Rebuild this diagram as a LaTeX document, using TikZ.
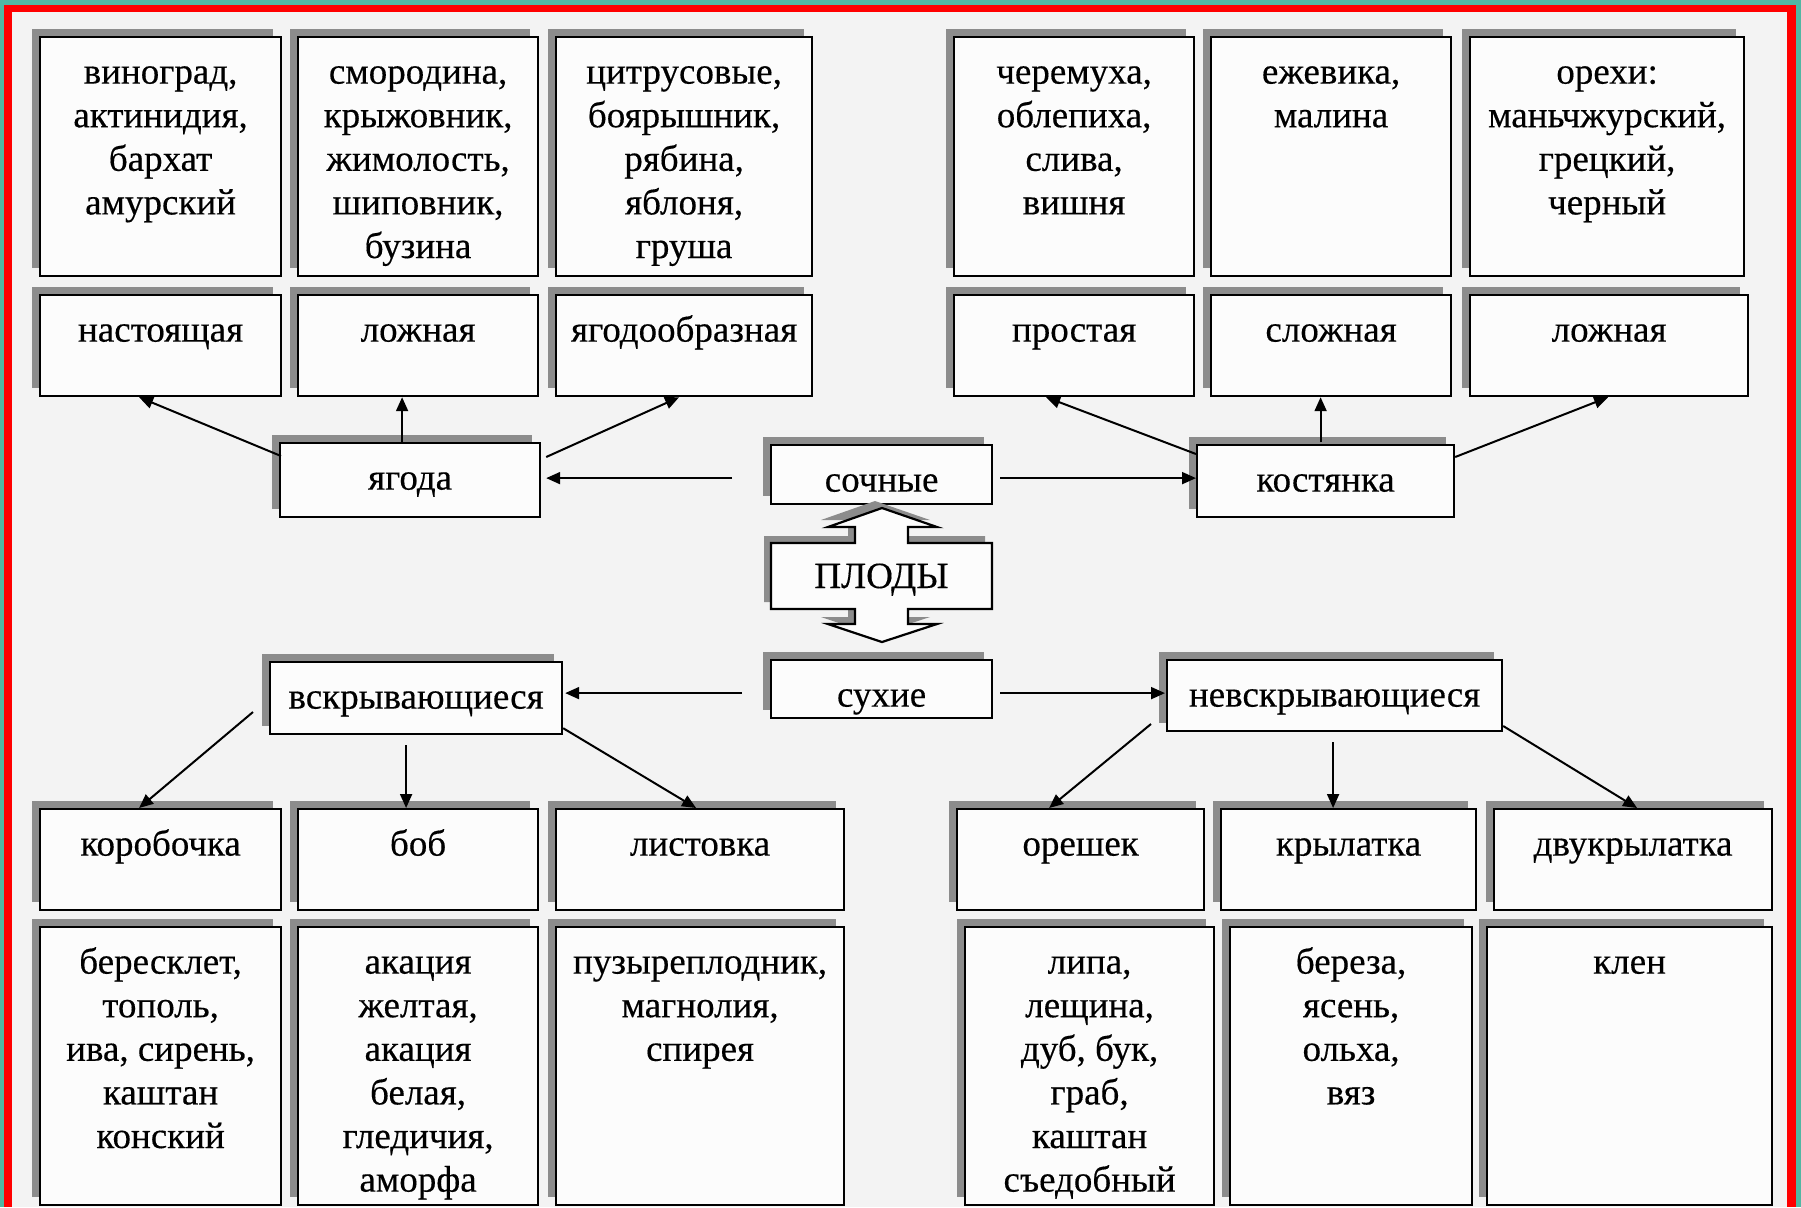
\documentclass[tikz,border=0pt]{standalone}
\usepackage{fontspec}
\setmainfont{Liberation Serif}[FakeBold=0.35]
\usetikzlibrary{arrows.meta,calc}
\definecolor{teal1}{RGB}{82,183,163}
\definecolor{bgc}{RGB}{243,243,243}
\definecolor{boxc}{RGB}{252,252,252}
\definecolor{shc}{RGB}{140,140,140}
\tikzset{
  boxst/.style={draw=black, line width=1.1pt, fill=boxc, inner sep=0pt, anchor=north west,
    font=\fontsize{18.5pt}{21.8pt}\selectfont},
  arr/.style={line width=1pt, -{Triangle[length=7pt,width=6pt]}},
  shadowst/.style={fill=shc},
}
\newcommand{\plbox}[6]{%
  \fill[shadowst] (#2-7,#3-7) rectangle (#4-7,#5-7);
  \node[boxst] (#1) at (#2,#3) {\parbox[t][\dimexpr(#5pt-#3pt)/2\relax][t]{\dimexpr(#4pt-#2pt)/2\relax}{\centering\vspace*{8pt}\strut #6}};
}
\begin{document}
\begin{tikzpicture}[x=0.5pt,y=-0.5pt]
\useasboundingbox (0,0) rectangle (1801,1207);
\fill[teal1] (0,0) rectangle (1801,1207);
\fill[red] (4,5) rectangle (1796,1207);
\fill[bgc] (12,12) rectangle (1787,1207);

% top left group
\plbox{A1}{39}{36}{280}{275}{виноград,\\ актинидия,\\ бархат\\ амурский}
\plbox{A2}{297}{36}{537}{275}{смородина,\\ крыжовник,\\ жимолость,\\ шиповник,\\ бузина}
\plbox{A3}{555}{36}{811}{275}{цитрусовые,\\ боярышник,\\ рябина,\\ яблоня,\\ груша}
\plbox{B1}{39}{294}{280}{395}{настоящая}
\plbox{B2}{297}{294}{537}{395}{ложная}
\plbox{B3}{555}{294}{811}{395}{ягодообразная}
% top right group
\plbox{C1}{953}{36}{1193}{275}{черемуха,\\ облепиха,\\ слива,\\ вишня}
\plbox{C2}{1210}{36}{1450}{275}{ежевика,\\ малина}
\plbox{C3}{1469}{36}{1743}{275}{орехи:\\ маньчжурский,\\ грецкий,\\ черный}
\plbox{D1}{953}{294}{1193}{395}{простая}
\plbox{D2}{1210}{294}{1450}{395}{сложная}
\plbox{D3}{1469}{294}{1747}{395}{ложная}
% middle
\plbox{yag}{279}{442}{539}{516}{ягода}
\plbox{soch}{770}{444}{991}{503}{сочные}
\plbox{kost}{1196}{444}{1453}{516}{костянка}
\plbox{suh}{770}{659}{991}{717}{сухие}
\plbox{vskr}{269}{661}{561}{733}{вскрывающиеся}
\plbox{nevskr}{1166}{659}{1501}{730}{невскрывающиеся}
% PLODY with double arrow
\fill[shc, shift={(-7,-7)}] (771,543) -- (855,543) -- (855,527) -- (828,527) -- (882,508) -- (937,527) -- (908,527) -- (908,543) -- (992,543) -- (992,609) -- (908,609) -- (908,624) -- (937,624) -- (882,642) -- (828,624) -- (855,624) -- (855,609) -- (771,609) -- cycle;
\filldraw[fill=boxc, draw=black, line width=1.1pt, line join=miter] (771,543) -- (855,543) -- (855,527) -- (828,527) -- (882,508) -- (937,527) -- (908,527) -- (908,543) -- (992,543) -- (992,609) -- (908,609) -- (908,624) -- (937,624) -- (882,642) -- (828,624) -- (855,624) -- (855,609) -- (771,609) -- cycle;
\node[font=\fontsize{18.5pt}{21.8pt}\selectfont, anchor=base, inner sep=0pt] (plody) at (881.5,588) {ПЛОДЫ};
% bottom left group
\plbox{K1}{39}{808}{280}{909}{коробочка}
\plbox{K2}{297}{808}{537}{909}{боб}
\plbox{K3}{555}{808}{843}{909}{листовка}
\plbox{E1}{39}{926}{280}{1204}{бересклет,\\ тополь,\\ ива, сирень,\\ каштан\\ конский}
\plbox{E2}{297}{926}{537}{1204}{акация\\ желтая,\\ акация\\ белая,\\ гледичия,\\ аморфа}
\plbox{E3}{555}{926}{843}{1204}{пузыреплодник,\\ магнолия,\\ спирея}
% bottom right group
\plbox{N1}{956}{808}{1203}{909}{орешек}
\plbox{N2}{1220}{808}{1475}{909}{крылатка}
\plbox{N3}{1493}{808}{1771}{909}{двукрылатка}
\plbox{F1}{964}{926}{1213}{1204}{липа,\\ лещина,\\ дуб, бук,\\ граб,\\ каштан\\ съедобный}
\plbox{F2}{1229}{926}{1471}{1204}{береза,\\ ясень,\\ ольха,\\ вяз}
\plbox{F3}{1486}{926}{1771}{1204}{клен}

% arrows
\draw[arr] ($(yag.north west)+(2,14)$) -- ($(B1.south)+(-21.5,0)$);
\coordinate (y2) at ($(yag.north)+(-8,0)$);
\draw[arr] (y2) -- (y2 |- B2.south);
\draw[arr] ($(yag.north east)+(5,15)$) -- ($(B3.south)+(-5,0)$);
\coordinate (s1) at ($(soch.west)+(-38,3.5)$);
\draw[arr] (s1) -- ($(s1 -| yag.east)+(5,0)$);
\coordinate (s2) at ($(soch.east)+(7,3.5)$);
\draw[arr] (s2) -- (s2 -| kost.west);
\draw[arr] ($(kost.north west)+(0,10)$) -- ($(D1.south)+(-28,0)$);
\coordinate (k2) at ($(kost.north)+(-5,-2)$);
\draw[arr] (k2) -- (k2 |- D2.south);
\draw[arr] ($(kost.north east)+(0,13)$) -- ($(D3.south)+(-1,0)$);
\coordinate (u1) at ($(suh.west)+(-28,4)$);
\draw[arr] (u1) -- ($(u1 -| vskr.east)+(2,0)$);
\coordinate (u2) at ($(suh.east)+(7,4)$);
\draw[arr] (u2) -- ($(u2 -| nevskr.west)+(-1,0)$);
\draw[arr] ($(vskr.north west)+(-16,51)$) -- ($(K1.north)+(-21.5,0)$);
\coordinate (v2) at ($(vskr.south)+(-10,10)$);
\draw[arr] (v2) -- (v2 |- K2.north);
\draw[arr] ($(vskr.south east)+(0,-7)$) -- ($(K3.north)+(-4,0)$);
\draw[arr] ($(nevskr.north west)+(-15,65)$) -- ($(N1.north)+(-31.5,0)$);
\coordinate (w2) at ($(nevskr.south)+(-1.5,10)$);
\draw[arr] (w2) -- (w2 |- N2.north);
\draw[arr] ($(nevskr.north east)+(0,67)$) -- ($(N3.north)+(4,0)$);
\end{tikzpicture}
\end{document}
